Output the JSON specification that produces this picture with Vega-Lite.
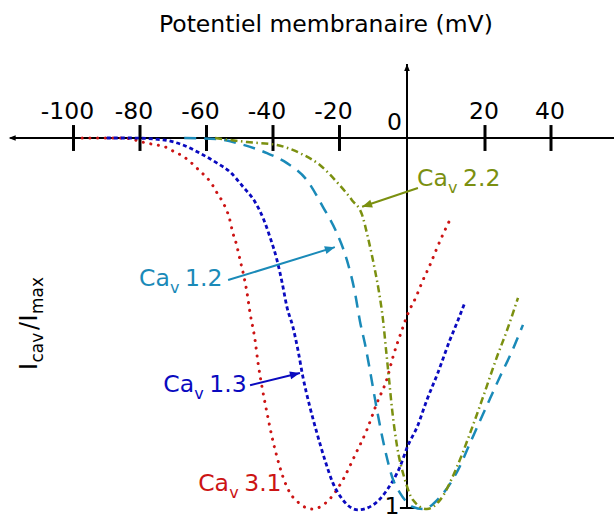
{
  "$schema": "https://vega.github.io/schema/vega-lite/v6.json",
  "width": 614,
  "height": 519,
  "autosize": {"type": "none"},
  "padding": 0,
  "background": "white",
  "config": {"view": {"stroke": null}, "text": {"font": "DejaVu Sans"}, "axis": {"disable": true}},
  "data": {"values": [{}]},
  "datasets": {
    "curves": [
      {"ch":"3.1","x":-97.4,"y":0},{"ch":"3.1","x":-85,"y":0},{"ch":"3.1","x":-77.9,"y":-0.014},{"ch":"3.1","x":-74.9,"y":-0.019},{"ch":"3.1","x":-72.5,"y":-0.024},{"ch":"3.1","x":-70.1,"y":-0.035},{"ch":"3.1","x":-67.7,"y":-0.046},{"ch":"3.1","x":-65.6,"y":-0.059},{"ch":"3.1","x":-63.5,"y":-0.076},{"ch":"3.1","x":-61.7,"y":-0.092},{"ch":"3.1","x":-59.8,"y":-0.108},{"ch":"3.1","x":-58.0,"y":-0.130},{"ch":"3.1","x":-56.8,"y":-0.149},{"ch":"3.1","x":-55.3,"y":-0.170},{"ch":"3.1","x":-54.1,"y":-0.192},{"ch":"3.1","x":-53.2,"y":-0.214},{"ch":"3.1","x":-52.0,"y":-0.259},{"ch":"3.1","x":-51.1,"y":-0.284},{"ch":"3.1","x":-49.9,"y":-0.330},{"ch":"3.1","x":-48.7,"y":-0.376},{"ch":"3.1","x":-47.8,"y":-0.419},{"ch":"3.1","x":-46.9,"y":-0.473},{"ch":"3.1","x":-45.4,"y":-0.546},{"ch":"3.1","x":-44.5,"y":-0.608},{"ch":"3.1","x":-43.3,"y":-0.673},{"ch":"3.1","x":-41.8,"y":-0.743},{"ch":"3.1","x":-40.3,"y":-0.808},{"ch":"3.1","x":-38.8,"y":-0.862},{"ch":"3.1","x":-37.0,"y":-0.916},{"ch":"3.1","x":-34.9,"y":-0.959},{"ch":"3.1","x":-32.5,"y":-0.984},{"ch":"3.1","x":-28.3,"y":-1.003},{"ch":"3.1","x":-23.5,"y":-0.981},{"ch":"3.1","x":-19.0,"y":-0.924},{"ch":"3.1","x":-15.4,"y":-0.857},{"ch":"3.1","x":-11.9,"y":-0.789},{"ch":"3.1","x":-8.9,"y":-0.716},{"ch":"3.1","x":-5.9,"y":-0.650},{"ch":"3.1","x":-4.1,"y":-0.590},{"ch":"3.1","x":-1.5,"y":-0.519},{"ch":"3.1","x":0.3,"y":-0.473},{"ch":"3.1","x":2.3,"y":-0.430},{"ch":"3.1","x":4.1,"y":-0.384},{"ch":"3.1","x":5.9,"y":-0.343},{"ch":"3.1","x":7.7,"y":-0.297},{"ch":"3.1","x":9.5,"y":-0.254},{"ch":"3.1","x":11.5,"y":-0.211},
      {"ch":"1.3","x":-90,"y":0},{"ch":"1.3","x":-83,"y":0},{"ch":"1.3","x":-73.1,"y":-0.005},{"ch":"1.3","x":-67.1,"y":-0.019},{"ch":"1.3","x":-62.0,"y":-0.041},{"ch":"1.3","x":-56.8,"y":-0.068},{"ch":"1.3","x":-52.9,"y":-0.092},{"ch":"1.3","x":-49.0,"y":-0.132},{"ch":"1.3","x":-45.4,"y":-0.173},{"ch":"1.3","x":-43.0,"y":-0.216},{"ch":"1.3","x":-40.9,"y":-0.268},{"ch":"1.3","x":-38.8,"y":-0.330},{"ch":"1.3","x":-37.3,"y":-0.389},{"ch":"1.3","x":-35.8,"y":-0.457},{"ch":"1.3","x":-34.0,"y":-0.511},{"ch":"1.3","x":-32.5,"y":-0.573},{"ch":"1.3","x":-31.0,"y":-0.646},{"ch":"1.3","x":-28.9,"y":-0.727},{"ch":"1.3","x":-26.8,"y":-0.797},{"ch":"1.3","x":-24.4,"y":-0.870},{"ch":"1.3","x":-22.0,"y":-0.932},{"ch":"1.3","x":-19.0,"y":-0.978},{"ch":"1.3","x":-14.5,"y":-1.005},{"ch":"1.3","x":-10.1,"y":-0.992},{"ch":"1.3","x":-5.9,"y":-0.951},{"ch":"1.3","x":-2.1,"y":-0.889},{"ch":"1.3","x":0.2,"y":-0.832},{"ch":"1.3","x":2.6,"y":-0.781},{"ch":"1.3","x":5.1,"y":-0.708},{"ch":"1.3","x":7.9,"y":-0.635},{"ch":"1.3","x":11.0,"y":-0.546},{"ch":"1.3","x":13.1,"y":-0.492},{"ch":"1.3","x":14.9,"y":-0.443},
      {"ch":"1.2","x":-66.7,"y":0},{"ch":"1.2","x":-56.8,"y":-0.003},{"ch":"1.2","x":-49.9,"y":-0.016},{"ch":"1.2","x":-41.8,"y":-0.041},{"ch":"1.2","x":-35.8,"y":-0.068},{"ch":"1.2","x":-29.8,"y":-0.114},{"ch":"1.2","x":-25.0,"y":-0.186},{"ch":"1.2","x":-20.8,"y":-0.257},{"ch":"1.2","x":-17.8,"y":-0.330},{"ch":"1.2","x":-15.4,"y":-0.419},{"ch":"1.2","x":-13.9,"y":-0.497},{"ch":"1.2","x":-12.4,"y":-0.559},{"ch":"1.2","x":-11.0,"y":-0.627},{"ch":"1.2","x":-8.9,"y":-0.735},{"ch":"1.2","x":-6.5,"y":-0.843},{"ch":"1.2","x":-4.1,"y":-0.924},{"ch":"1.2","x":-2.1,"y":-0.959},{"ch":"1.2","x":1.5,"y":-0.997},{"ch":"1.2","x":4.1,"y":-1.003},{"ch":"1.2","x":8.5,"y":-0.970},{"ch":"1.2","x":13.1,"y":-0.897},{"ch":"1.2","x":16.2,"y":-0.824},{"ch":"1.2","x":18.7,"y":-0.765},{"ch":"1.2","x":21.5,"y":-0.705},{"ch":"1.2","x":24.5,"y":-0.646},{"ch":"1.2","x":28.2,"y":-0.576},{"ch":"1.2","x":31.5,"y":-0.505},
      {"ch":"2.2","x":-57.4,"y":0},{"ch":"2.2","x":-47.8,"y":-0.011},{"ch":"2.2","x":-38.8,"y":-0.019},{"ch":"2.2","x":-31.9,"y":-0.041},{"ch":"2.2","x":-25.9,"y":-0.073},{"ch":"2.2","x":-20.5,"y":-0.122},{"ch":"2.2","x":-16.3,"y":-0.168},{"ch":"2.2","x":-13.3,"y":-0.208},{"ch":"2.2","x":-11.6,"y":-0.268},{"ch":"2.2","x":-9.5,"y":-0.357},{"ch":"2.2","x":-8.3,"y":-0.416},{"ch":"2.2","x":-7.1,"y":-0.492},{"ch":"2.2","x":-6.2,"y":-0.573},{"ch":"2.2","x":-5.3,"y":-0.654},{"ch":"2.2","x":-4.4,"y":-0.735},{"ch":"2.2","x":-3.0,"y":-0.830},{"ch":"2.2","x":-0.6,"y":-0.924},{"ch":"2.2","x":1.5,"y":-0.978},{"ch":"2.2","x":5.1,"y":-1.003},{"ch":"2.2","x":8.5,"y":-0.978},{"ch":"2.2","x":12.8,"y":-0.889},{"ch":"2.2","x":16.2,"y":-0.797},{"ch":"2.2","x":19.5,"y":-0.700},{"ch":"2.2","x":23.6,"y":-0.592},{"ch":"2.2","x":26.7,"y":-0.519},{"ch":"2.2","x":30.0,"y":-0.432}
    ],
    "ticks": [{"v":-100},{"v":-80},{"v":-60},{"v":-40},{"v":-20},{"v":20},{"v":40}],
    "labels": [
      {"ch":"2.2","x":2.56,"y":-0.130},
      {"ch":"1.2","x":-80.3,"y":-0.400},
      {"ch":"1.3","x":-73.0,"y":-0.686},
      {"ch":"3.1","x":-62.5,"y":-0.953}
    ],
    "arrows": [
      {"ch":"2.2","x":2.8,"y":-0.135,"x2":-13.3,"y2":-0.186},
      {"ch":"1.2","x":-53.5,"y":-0.384,"x2":-21.4,"y2":-0.295},
      {"ch":"1.3","x":-46.9,"y":-0.668,"x2":-31.9,"y2":-0.635}
    ]
  },
  "layer": [
    {
      "mark": {"type": "rule", "color": "black", "strokeWidth": 2},
      "encoding": {
        "x": {"datum": -119, "type": "quantitative", "axis": null, "scale": {"domain": [-100, -20, 0, 20, 40], "range": [73.5, 339.5, 407, 485, 551], "nice": false, "zero": false}},
        "x2": {"datum": 62},
        "y": {"datum": 0, "type": "quantitative", "axis": null, "scale": {"domain": [-1, 0], "range": [508, 138], "nice": false, "zero": false}}
      }
    },
    {
      "mark": {"type": "rule", "color": "black", "strokeWidth": 2},
      "encoding": {"x": {"datum": 0, "type": "quantitative"}, "y": {"datum": 0.2, "type": "quantitative"}, "y2": {"datum": -1.003}}
    },
    {
      "data": {"name": "ticks"},
      "mark": {"type": "rule", "color": "black", "strokeWidth": 3},
      "encoding": {"x": {"field": "v", "type": "quantitative"}, "y": {"datum": 0.035, "type": "quantitative"}, "y2": {"datum": -0.035}}
    },
    {
      "mark": {"type": "rule", "color": "black", "strokeWidth": 2},
      "encoding": {"x": {"datum": -2.1, "type": "quantitative"}, "x2": {"datum": 2.0}, "y": {"datum": -1.0, "type": "quantitative"}}
    },
    {
      "mark": {"type": "point", "shape": "M0,0L-2,-0.8L-2,0.8Z", "filled": true, "size": 49, "angle": 180, "color": "black", "opacity": 1},
      "encoding": {"x": {"datum": -119.5, "type": "quantitative"}, "y": {"datum": 0, "type": "quantitative"}}
    },
    {
      "mark": {"type": "point", "shape": "M0,0L-2,-0.8L-2,0.8Z", "filled": true, "size": 49, "angle": 270, "color": "black", "opacity": 1},
      "encoding": {"x": {"datum": 0, "type": "quantitative"}, "y": {"datum": 0.2, "type": "quantitative"}}
    },
    {
      "data": {"name": "ticks"},
      "transform": [{"filter": "datum.v < 0"}],
      "mark": {"type": "text", "fontSize": 23.5, "color": "black", "align": "center", "baseline": "alphabetic", "dx": -6, "dy": -19.5},
      "encoding": {"x": {"field": "v", "type": "quantitative"}, "y": {"datum": 0, "type": "quantitative"}, "text": {"field": "v", "type": "nominal"}}
    },
    {
      "data": {"name": "ticks"},
      "transform": [{"filter": "datum.v > 0"}],
      "mark": {"type": "text", "fontSize": 23.5, "color": "black", "align": "center", "baseline": "alphabetic", "dx": -1, "dy": -19.5},
      "encoding": {"x": {"field": "v", "type": "quantitative"}, "y": {"datum": 0, "type": "quantitative"}, "text": {"field": "v", "type": "nominal"}}
    },
    {
      "mark": {"type": "text", "text": "0", "fontSize": 23.5, "color": "black", "align": "center", "baseline": "alphabetic", "dx": -12.5, "dy": -8},
      "encoding": {"x": {"datum": 0, "type": "quantitative"}, "y": {"datum": 0, "type": "quantitative"}}
    },
    {
      "mark": {"type": "text", "text": "1", "fontSize": 23.5, "color": "black", "align": "center", "baseline": "alphabetic", "dx": -15, "dy": 6},
      "encoding": {"x": {"datum": 0, "type": "quantitative"}, "y": {"datum": -1, "type": "quantitative"}}
    },
    {
      "data": {"name": "curves"},
      "transform": [{"filter": "datum.ch === '3.1'"}],
      "mark": {"type": "line", "color": "#cc1414", "strokeWidth": 3, "strokeDash": [0.1, 7.6], "strokeCap": "round", "interpolate": "monotone"},
      "encoding": {"x": {"field": "x", "type": "quantitative"}, "y": {"field": "y", "type": "quantitative"}}
    },
    {
      "data": {"name": "curves"},
      "transform": [{"filter": "datum.ch === '1.3'"}],
      "mark": {"type": "line", "color": "#0a0abf", "strokeWidth": 2.8, "strokeDash": [4, 3], "interpolate": "monotone"},
      "encoding": {"x": {"field": "x", "type": "quantitative"}, "y": {"field": "y", "type": "quantitative"}}
    },
    {
      "data": {"name": "curves"},
      "transform": [{"filter": "datum.ch === '1.2'"}],
      "mark": {"type": "line", "color": "#1a8ab8", "strokeWidth": 2.5, "strokeDash": [12, 8], "interpolate": "monotone"},
      "encoding": {"x": {"field": "x", "type": "quantitative"}, "y": {"field": "y", "type": "quantitative"}}
    },
    {
      "data": {"name": "curves"},
      "transform": [{"filter": "datum.ch === '2.2'"}],
      "mark": {"type": "line", "color": "#7b9010", "strokeWidth": 2.5, "strokeDash": [7, 3.5, 1.5, 3.5], "interpolate": "monotone"},
      "encoding": {"x": {"field": "x", "type": "quantitative"}, "y": {"field": "y", "type": "quantitative"}}
    },
    {
      "data": {"name": "arrows"},
      "mark": {"type": "rule", "strokeWidth": 2},
      "encoding": {
        "x": {"field": "x", "type": "quantitative"}, "y": {"field": "y", "type": "quantitative"},
        "x2": {"field": "x2"}, "y2": {"field": "y2"},
        "color": {"field": "ch", "type": "nominal", "legend": null, "scale": {"domain": ["1.2", "1.3", "2.2", "3.1"], "range": ["#1a8ab8", "#0a0abf", "#7b9010", "#cc1414"]}}
      }
    },
    {
      "data": {"name": "arrows"},
      "transform": [{"filter": "datum.ch === '2.2'"}],
      "mark": {"type": "point", "shape": "M0,0L-2,-0.8L-2,0.8Z", "filled": true, "size": 100, "angle": 161.3, "color": "#7b9010", "opacity": 1},
      "encoding": {"x": {"field": "x2", "type": "quantitative"}, "y": {"field": "y2", "type": "quantitative"}}
    },
    {
      "data": {"name": "arrows"},
      "transform": [{"filter": "datum.ch === '1.2'"}],
      "mark": {"type": "point", "shape": "M0,0L-2,-0.8L-2,0.8Z", "filled": true, "size": 100, "angle": 342.9, "color": "#1a8ab8", "opacity": 1},
      "encoding": {"x": {"field": "x2", "type": "quantitative"}, "y": {"field": "y2", "type": "quantitative"}}
    },
    {
      "data": {"name": "arrows"},
      "transform": [{"filter": "datum.ch === '1.3'"}],
      "mark": {"type": "point", "shape": "M0,0L-2,-0.8L-2,0.8Z", "filled": true, "size": 100, "angle": 346.5, "color": "#0a0abf", "opacity": 1},
      "encoding": {"x": {"field": "x2", "type": "quantitative"}, "y": {"field": "y2", "type": "quantitative"}}
    },
    {
      "data": {"name": "labels"},
      "mark": {"type": "text", "text": "Ca", "fontSize": 23.5, "align": "left", "baseline": "alphabetic"},
      "encoding": {"x": {"field": "x", "type": "quantitative"}, "y": {"field": "y", "type": "quantitative"}, "color": {"field": "ch", "type": "nominal", "legend": null}}
    },
    {
      "data": {"name": "labels"},
      "mark": {"type": "text", "text": "v", "fontSize": 16, "align": "left", "baseline": "alphabetic", "dx": 31, "dy": 7},
      "encoding": {"x": {"field": "x", "type": "quantitative"}, "y": {"field": "y", "type": "quantitative"}, "color": {"field": "ch", "type": "nominal", "legend": null}}
    },
    {
      "data": {"name": "labels"},
      "mark": {"type": "text", "fontSize": 23.5, "align": "left", "baseline": "alphabetic", "dx": 46},
      "encoding": {"x": {"field": "x", "type": "quantitative"}, "y": {"field": "y", "type": "quantitative"}, "text": {"field": "ch", "type": "nominal"}, "color": {"field": "ch", "type": "nominal", "legend": null}}
    },
    {
      "mark": {"type": "text", "text": "Potentiel membranaire (mV)", "fontSize": 23.5, "color": "black", "align": "center", "baseline": "alphabetic"},
      "encoding": {"x": {"datum": -24.1, "type": "quantitative"}, "y": {"datum": 0.2865, "type": "quantitative"}}
    },
    {
      "mark": {"type": "text", "text": "I", "fontSize": 24, "color": "black", "align": "left", "baseline": "alphabetic", "angle": 270},
      "encoding": {"x": {"datum": -111, "type": "quantitative"}, "y": {"datum": -0.627, "type": "quantitative"}}
    },
    {
      "mark": {"type": "text", "text": "cav", "fontSize": 17, "color": "black", "align": "left", "baseline": "alphabetic", "angle": 270, "dx": 7.5, "dy": 6},
      "encoding": {"x": {"datum": -111, "type": "quantitative"}, "y": {"datum": -0.627, "type": "quantitative"}}
    },
    {
      "mark": {"type": "text", "text": "/", "fontSize": 24, "color": "black", "align": "left", "baseline": "alphabetic", "angle": 270, "dx": 40},
      "encoding": {"x": {"datum": -111, "type": "quantitative"}, "y": {"datum": -0.627, "type": "quantitative"}}
    },
    {
      "mark": {"type": "text", "text": "I", "fontSize": 24, "color": "black", "align": "left", "baseline": "alphabetic", "angle": 270, "dx": 48.5},
      "encoding": {"x": {"datum": -111, "type": "quantitative"}, "y": {"datum": -0.627, "type": "quantitative"}}
    },
    {
      "mark": {"type": "text", "text": "max", "fontSize": 17, "color": "black", "align": "left", "baseline": "alphabetic", "angle": 270, "dx": 56, "dy": 6},
      "encoding": {"x": {"datum": -111, "type": "quantitative"}, "y": {"datum": -0.627, "type": "quantitative"}}
    }
  ]
}
